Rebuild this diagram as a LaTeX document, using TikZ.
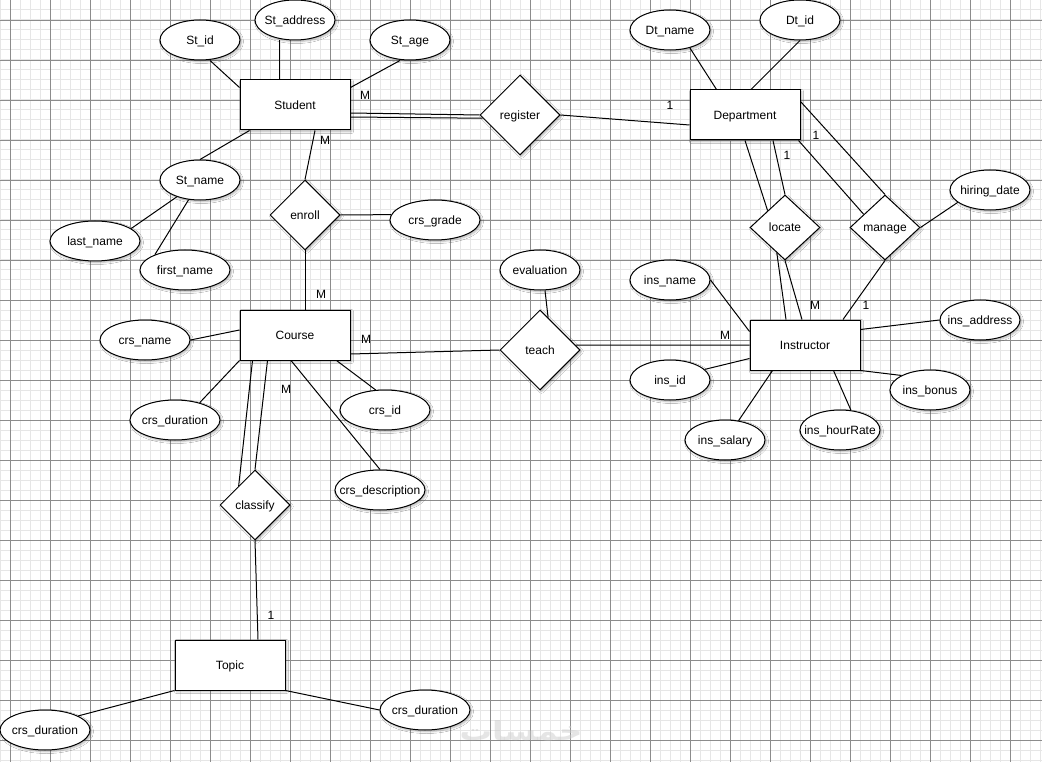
\documentclass[tikz,border=0pt]{standalone}
\usepackage{fontspec}
\usepackage{graphicx}
\setmainfont{Liberation Sans}
\newfontfamily\arabicfont[Script=Arabic]{DejaVu Sans}
\TeXXeTstate=1
\usetikzlibrary{shapes.geometric,calc,shadows.blur}
\newcommand\ctext[1]{\makebox[0pt]{#1}}
\begin{document}
\begin{tikzpicture}[x=1pt,y=-1pt,
  every node/.style={font=\fontsize{12}{14}\selectfont,text height=8.6pt,text depth=0pt},
  shad/.style={blur shadow={shadow xshift=1.5pt,shadow yshift=-1.5pt,shadow blur radius=2pt,shadow blur steps=6,shadow opacity=30}},
  entity/.style={draw,fill=white,rectangle,minimum width=110pt,minimum height=50pt,inner sep=0pt,line width=1pt,shad},
  rel/.style={draw,fill=white,diamond,inner sep=0pt,line width=1pt,shad},
  attr/.style={draw,fill=white,ellipse,minimum height=40pt,minimum width=80pt,inner sep=0pt,line width=1pt,shad},
  wide/.style={minimum width=90pt},
  link/.style={line width=1pt},
  card/.style={inner sep=0pt},
  minorline/.style={draw={rgb,255:red,230;green,230;blue,230},line width=1pt},
  majorline/.style={draw={rgb,255:red,140;green,140;blue,140},line width=0.8pt},
]
\useasboundingbox (0,0) rectangle (1042,762);
\fill[white] (0,0) rectangle (1042,762);
\foreach \x in {0,10,...,1040} \draw[minorline] (\x,0) -- (\x,762);
\foreach \y in {0,10,...,760} \draw[minorline] (0,\y) -- (1042,\y);
\foreach \x in {10,50,...,1050} \draw[majorline] (\x,0) -- (\x,762);
\foreach \y in {20,60,...,740} \draw[majorline] (0,\y) -- (1042,\y);

\node[text={rgb,255:red,205;green,205;blue,205},opacity=0.5,anchor=south,inner sep=0pt,text height=20pt,text depth=0pt] (wm) at (521,741) {\resizebox{123pt}{20pt}{\arabicfont\bfseries\beginR خمسات\endR}};

% entities
\node[entity] (stu) at (295,105) {Student};
\node[entity] (dept) at (745,115) {Department};
\node[entity] (course) at (295,335) {Course};
\node[entity] (ins) at (805,345) {Instructor};
\node[entity] (topic) at (230,665) {Topic};

% relationships
\node[rel,minimum width=80pt,minimum height=80pt] (reg) at (520,115) {register};
\node[rel,minimum width=70pt,minimum height=70pt] (enroll) at (305,215) {enroll};
\node[rel,minimum width=70pt,minimum height=65pt] (loc) at (785,227.5) {locate};
\node[rel,minimum width=70pt,minimum height=65pt] (man) at (885,227.5) {manage};
\node[rel,minimum width=80pt,minimum height=80pt] (teach) at (540,350) {teach};
\node[rel,minimum width=70pt,minimum height=70pt] (cls) at (255,505) {classify};

% attributes
\node[attr] (stid) at (200,40) {\ctext{St\_id}};
\node[attr] (stad) at (295,20) {\ctext{St\_address}};
\node[attr] (stage) at (410,40) {\ctext{St\_age}};
\node[attr] (stname) at (200,180) {\ctext{St\_name}};
\node[attr,wide] (lastn) at (95,241) {\ctext{last\_name}};
\node[attr,wide] (firstn) at (185,270) {\ctext{first\_name}};
\node[attr,wide] (crsg) at (435,220) {\ctext{crs\_grade}};
\node[attr] (dtname) at (670,30) {\ctext{Dt\_name}};
\node[attr] (dtid) at (800,20) {\ctext{Dt\_id}};
\node[attr] (hire) at (990,190) {\ctext{hiring\_date}};
\node[attr] (insname) at (670,280) {\ctext{ins\_name}};
\node[attr] (insaddr) at (980,320) {\ctext{ins\_address}};
\node[attr] (insid) at (670,380) {\ctext{ins\_id}};
\node[attr] (insbonus) at (930,390) {\ctext{ins\_bonus}};
\node[attr] (inssal) at (725,440) {\ctext{ins\_salary}};
\node[attr] (inshour) at (840,430) {\ctext{ins\_hourRate}};
\node[attr] (eval) at (540,270) {\ctext{evaluation}};
\node[attr,wide] (crsname) at (145,340) {\ctext{crs\_name}};
\node[attr,wide] (crsdur) at (175,420) {\ctext{crs\_duration}};
\node[attr,wide] (crsid) at (385,410) {\ctext{crs\_id}};
\node[attr,wide] (crsdesc) at (380,490) {\ctext{crs\_description}};
\node[attr,wide] (tdur1) at (45,730) {\ctext{crs\_duration}};
\node[attr,wide] (tdur2) at (425,710) {\ctext{crs\_duration}};

% connectors
\draw[link] ([xshift=10pt]stid.south) -- ([yshift=-8pt]stu.north west);
\draw[link] ([xshift=-16pt]stad.south) -- ([xshift=-16pt]stu.north);
\draw[link] ([xshift=-10pt]stage.south) -- ([yshift=-8pt]stu.north east);
\draw[link] (stname.north) -- ([xshift=10pt]stu.south west);
\draw[link] (stname.216) -- (lastn.19);
\draw[link] (stname.240) -- (firstn.153);
\draw[link] ([xshift=20pt]stu.south) -- (enroll.north);
\draw[link] ([yshift=-8pt]stu.east) -- (reg.west);
\draw[link] ([yshift=-12pt]stu.east) -- ($(reg.west)!0.08!(reg.south)$);
\draw[link] (reg.east) -- ([yshift=-10pt]dept.west);
\draw[link] (enroll.east) -- (crsg.173);
\draw[link] (enroll.south) -- ([xshift=10pt]course.north);
\draw[link] (crsname.east) -- ([yshift=5pt]course.west);
\draw[link] (course.south west) -- (crsdur.35);
\draw[link] ([xshift=-14pt]course.south east) -- (crsid.115);
\draw[link] ([xshift=-4pt]course.south) -- (crsdesc.north);
\draw[link] ([xshift=13pt]course.south west) -- ($(cls.west)!0.54!(cls.north)$);
\draw[link] ([xshift=28pt]course.south west) -- (cls.north);
\draw[link] (cls.south) -- ([xshift=28pt]topic.north);
\draw[link] (topic.south west) -- (tdur1.23);
\draw[link] (topic.south east) -- (tdur2.west);
\draw[link] ([yshift=-19pt]course.east) -- (teach.west);
\draw[link] ($(teach.east)!0.12!(teach.north)$) -- (ins.west);
\draw[link] ([xshift=5pt]eval.south) -- ($(teach.north)!0.2!(teach.east)$);
\draw[link] (dtname.-42) -- ([xshift=27pt]dept.north west);
\draw[link] (dtid.south) -- ([xshift=6pt]dept.north);
\draw[link] (dept.south) -- ($(loc.west)!0.51!(loc.north)$);
\draw[link] ([xshift=28pt]dept.south) -- (loc.north);
\draw[link] ($(loc.west)!0.77!(loc.south)$) -- ([xshift=-19pt]ins.north);
\draw[link] (loc.south) -- ([xshift=-3pt]ins.north);
\draw[link] ([yshift=-12pt]dept.north east) -- (man.north);
\draw[link] ([xshift=-2pt]dept.south east) -- ($(man.west)!0.4!(man.north)$);
\draw[link] (man.east) -- (hire.201);
\draw[link] (man.south) -- ([xshift=38pt]ins.north);
\draw[link] (insname.east) -- ([yshift=-12pt]ins.north west);
\draw[link] ([yshift=-10pt]ins.north east) -- (insaddr.west);
\draw[link] (insid.17) -- ([yshift=12pt]ins.south west);
\draw[link] (inssal.55) -- ([xshift=23pt]ins.south west);
\draw[link] (inshour.61) -- ([xshift=-27pt]ins.south east);
\draw[link] (ins.south east) -- (insbonus.153);

% cardinalities
\node[card] (c1) at (365,95) {M};
\node[card] (c2) at (325,140) {M};
\node[card] (c3) at (670,105) {1};
\node[card] (c4) at (787,155) {1};
\node[card] (c5) at (816,135) {1};
\node[card] (c6) at (815,305) {M};
\node[card] (c7) at (866,305) {1};
\node[card] (c8) at (725,335) {M};
\node[card] (c9) at (366,339) {M};
\node[card] (c10) at (321,294) {M};
\node[card] (c11) at (286,389) {M};
\node[card] (c12) at (271,615) {1};
\end{tikzpicture}
\end{document}
